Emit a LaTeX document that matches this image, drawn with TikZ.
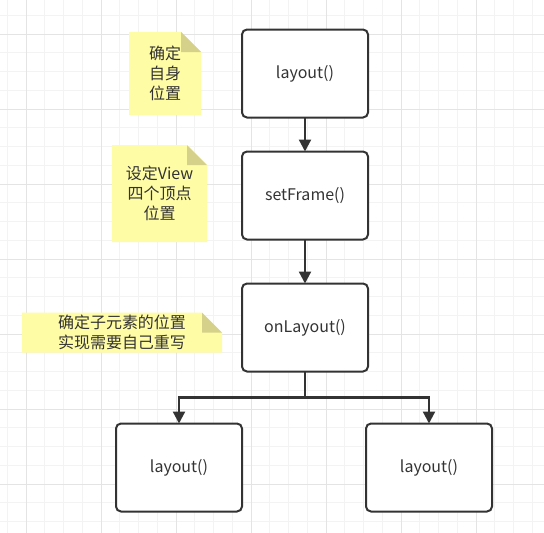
\documentclass[tikz,border=0pt]{standalone}
\usepackage{fontspec}
\setmainfont{Noto Sans CJK SC}
\usetikzlibrary{arrows.meta,positioning,backgrounds}
\definecolor{ink}{RGB}{51,51,51}
\definecolor{gridminor}{RGB}{243,243,243}
\definecolor{gridmajor}{RGB}{228,228,228}
\definecolor{memo}{RGB}{255,252,166}
\definecolor{memofold}{RGB}{214,209,138}
\tikzset{call/.style={draw=ink,line width=2pt,rounded corners=5pt,fill=white,minimum width=126pt,minimum height=88pt,inner sep=0pt,outer sep=0pt,align=center,font=\fontsize{16}{20}\selectfont,text=ink},memobox/.style={inner sep=0pt,outer sep=0pt,align=center,font=\fontsize{16}{20}\selectfont,text=ink},flow/.style={-{Triangle[length=12pt,width=12pt]},line width=2.2pt,draw=ink}}
\newcommand{\foldnote}[1]{%
\fill[memo] (#1.south west) -- (#1.north west) -- ([xshift=-20pt]#1.north east) -- ([yshift=-20pt]#1.north east) -- (#1.south east) -- cycle;
\fill[memofold] ([xshift=-20pt]#1.north east) -- ([xshift=-20pt,yshift=-20pt]#1.north east) -- ([yshift=-20pt]#1.north east) -- cycle;}

\begin{document}
\begin{tikzpicture}[x=1pt,y=-1pt]
\useasboundingbox (0,0) rectangle (544,533);
\node[call] (top) at (305,73.5) {layout()};
\node[call,below=34pt of top] (set) {setFrame()};
\node[call,below=44pt of set] (onl) {onLayout()};
\node[call,below=52pt of onl,xshift=-126pt] (lft) {layout()};
\node[call,below=52pt of onl,xshift=124pt] (rgt) {layout()};
\node[memobox,minimum width=72pt,minimum height=83pt,left=41pt of top] (tip1) {确定\\自身\\位置};
\node[memobox,minimum width=95pt,minimum height=97pt,left=35pt of set,yshift=2pt] (tip2) {设定View\\四个顶点\\位置};
\node[memobox,minimum width=200pt,minimum height=40pt,left=20pt of onl,yshift=-5pt] (tip3) {确定子元素的位置\\实现需要自己重写};
\coordinate[below=26pt of onl.south] (split);
\draw[flow] (top) -- (set);
\draw[flow] (set) -- (onl);
\draw[line width=2.2pt,draw=ink] (onl.south) -- (split);
\draw[flow] (split) -| (lft.north);
\draw[flow] (split) -| (rgt.north);
\begin{scope}[on background layer]
\fill[white] (0,0) rectangle (544,533);
\foreach \i in {0,...,28} {
  \draw[gridminor,line width=1pt] ({7.25+18.75*\i},0) -- ++(0,533);
  \draw[gridminor,line width=1pt] (0,{15.25+18.75*\i}) -- ++(544,0);
}
\foreach \i in {0,...,6} {
  \draw[gridmajor,line width=1pt] ({26+75*\i},0) -- ++(0,533);
  \draw[gridmajor,line width=1pt] (0,{34+75*\i}) -- ++(544,0);
}
\foldnote{tip1}
\foldnote{tip2}
\foldnote{tip3}
\end{scope}
\end{tikzpicture}
\end{document}
